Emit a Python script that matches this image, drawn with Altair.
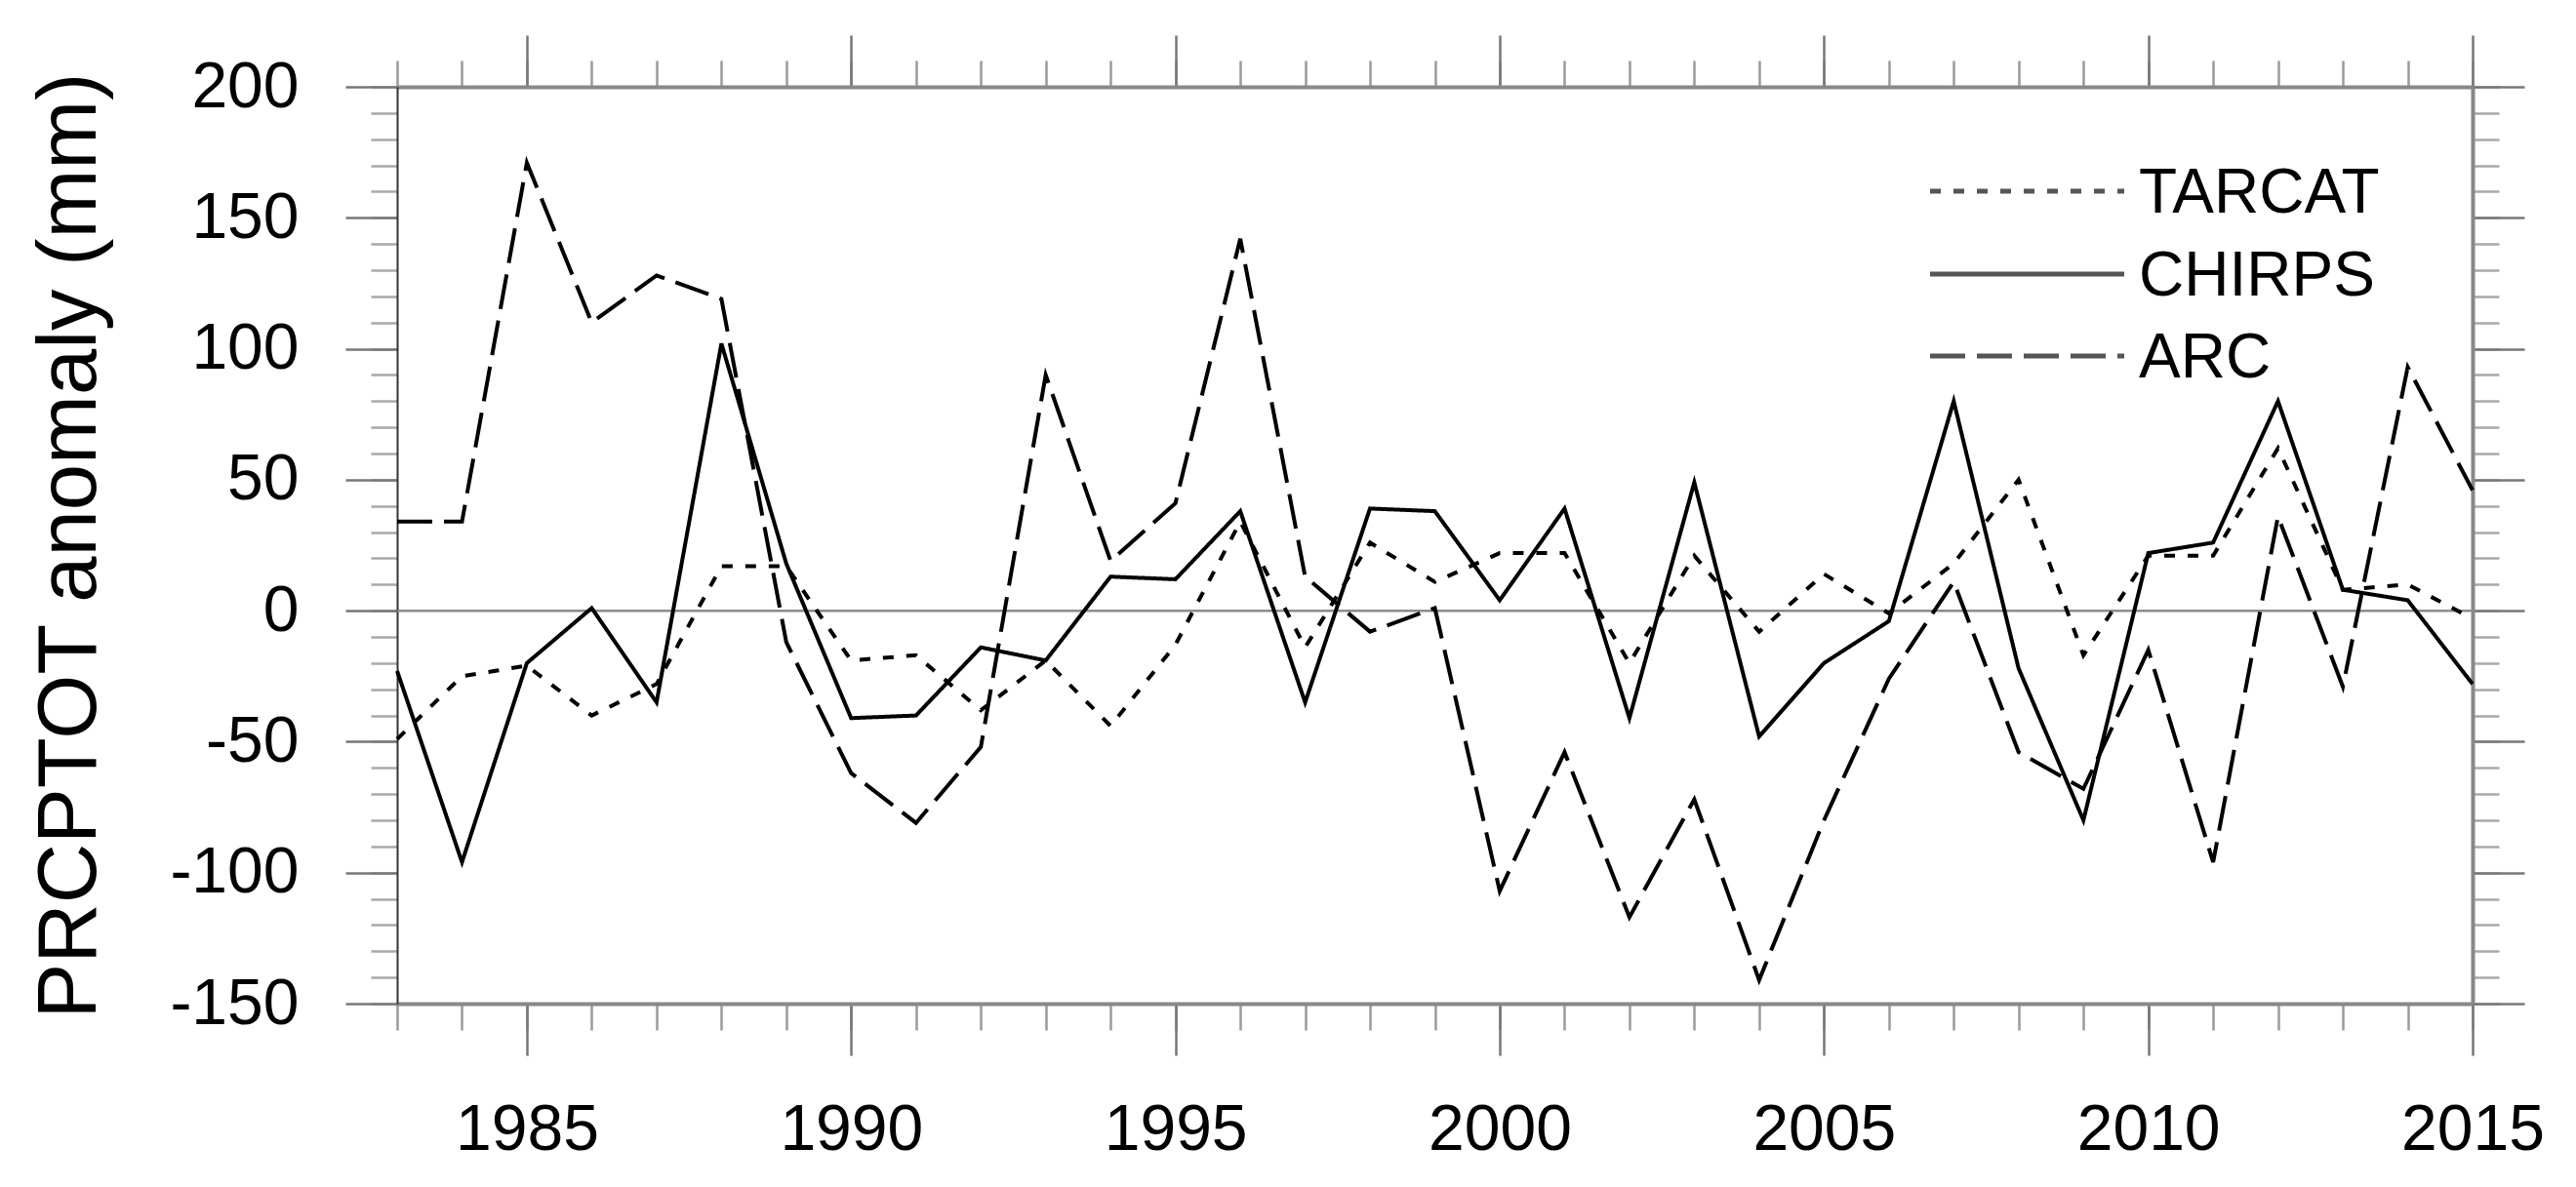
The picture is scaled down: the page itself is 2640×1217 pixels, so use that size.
import altair as alt
import pandas as pd

years = list(range(1983, 2016))
series_names = ["TARCAT", "CHIRPS", "ARC"]

tarcat = [-49, -25, -21, -40, -28, 17, 17, -19, -17, -38, -19, -44, -13, 34, -14,
          26, 11, 22, 22, -20, 21, -8, 14, -1, 18, 50, -17, 21, 21, 62, 8, 10, -3]
chirps = [-23, -96, -20, 1, -35, 102, 18, -41, -40, -14, -19, 13, 12, 38, -35,
          39, 38, 4, 39, -41, 49, -48, -20, -4, 80, -22, -80, 22, 26, 80, 8, 4, -28]
arc = [34, 34, 171, 110, 128, 119, -12, -62, -81, -52, 90, 19, 41, 142, 13,
       -8, 1, -107, -54, -117, -72, -141, -80, -26, 11, -54, -68, -15, -96, 36, -29, 93, 46]

x_major = list(range(1985, 2016, 5))
x_minor = years
y_major = list(range(-150, 201, 50))
y_minor = list(range(-150, 201, 10))

rows = []
for name, vals in zip(series_names, [tarcat, chirps, arc]):
    for yr, v in zip(years, vals):
        rows.append({"year": yr, "value": v, "series": name})
df = pd.DataFrame(rows)
zero_df = pd.DataFrame({"v": [0]})

FONT = "Liberation Sans"
W, H = 2127, 940

xscale = alt.Scale(domain=[1983, 2015], nice=False, zero=False)
yscale = alt.Scale(domain=[-150, 200], nice=False, zero=False)
dash_scale = alt.Scale(domain=series_names, range=[[11, 13], [1, 0], [36, 12]])

MAJ, MIN = 53, 27


def ax(orient, values, size, labels=False, domain=False, dcolor="#888888",
       dwidth=4, tcolor="#777777", **kw):
    return alt.Axis(orient=orient, values=values, tickSize=size, labels=labels,
                    domain=domain, domainColor=dcolor, domainWidth=dwidth,
                    tickColor=tcolor, tickWidth=2.5, grid=False, title=None,
                    labelFont=FONT, labelFontSize=66, labelColor="black",
                    labelExpr="'' + datum.value", labelFlush=False,
                    labelOverlap=False, **kw)


zero_rule = alt.Chart(zero_df).mark_rule(color="#8c8c8c", strokeWidth=2.5).encode(
    y=alt.Y("v:Q", scale=yscale, axis=None)
)

lines = alt.Chart(df).mark_line(color="black", strokeWidth=4, strokeJoin="miter",
                                strokeCap="butt").encode(
    x=alt.X("year:Q", scale=xscale,
            axis=ax("bottom", x_major, MAJ, labels=True, domain=True, labelPadding=44)),
    y=alt.Y("value:Q", scale=yscale,
            axis=alt.Axis(orient="left", values=y_major, tickSize=MAJ, labels=True,
                          domain=True, domainColor="#333333", domainWidth=2,
                          tickColor="#777777", tickWidth=2.5, grid=False,
                          labelFont=FONT, labelFontSize=66, labelColor="black",
                          labelExpr="'' + datum.value", labelPadding=48,
                          labelOverlap=False, labelFlush=False,
                          title="PRCPTOT anomaly (mm)", titleFont=FONT,
                          titleFontSize=85, titleFontWeight="normal",
                          titleColor="black", titleAngle=270,
                          titleBaseline="alphabetic", titleAlign="center",
                          titleX=-310, titleY=H / 2)),
    strokeDash=alt.StrokeDash("series:N", scale=dash_scale, legend=None),
    detail="series:N",
)

minor_bl = alt.Chart(df).mark_point(opacity=0).encode(
    x=alt.X("year:Q", scale=xscale, axis=ax("bottom", x_minor, MIN, tcolor="#9a9a9a")),
    y=alt.Y("value:Q", scale=yscale, axis=ax("left", y_minor, MIN, tcolor="#a8a8a8")),
)

major_tr = alt.Chart(df).mark_point(opacity=0).encode(
    x=alt.X("year:Q", scale=xscale, axis=ax("top", x_major, MAJ, domain=True)),
    y=alt.Y("value:Q", scale=yscale, axis=ax("right", y_major, MAJ, domain=True)),
)

minor_tr = alt.Chart(df).mark_point(opacity=0).encode(
    x=alt.X("year:Q", scale=xscale, axis=ax("top", x_minor, MIN, tcolor="#9a9a9a")),
    y=alt.Y("value:Q", scale=yscale, axis=ax("right", y_minor, MIN, tcolor="#a8a8a8")),
)

# legend (drawn manually, pixel positions inside the plot)
leg_y = {"TARCAT": 107, "CHIRPS": 192, "ARC": 276}
legend_layers = []
for name in series_names:
    ldf = pd.DataFrame({"series": [name]})
    legend_layers.append(
        alt.Chart(ldf).mark_rule(color="#555555", strokeWidth=5, strokeCap="butt").encode(
            x=alt.value(1571), x2=alt.value(1770), y=alt.value(leg_y[name]),
            strokeDash=alt.StrokeDash("series:N", scale=dash_scale, legend=None),
        )
    )
    legend_layers.append(
        alt.Chart(ldf).mark_text(align="left", baseline="middle", font=FONT,
                                 fontSize=64, color="black").encode(
            x=alt.value(1785), y=alt.value(leg_y[name] + 3), text="series:N"
        )
    )

chart = alt.layer(zero_rule, minor_bl, minor_tr, major_tr, lines, *legend_layers).resolve_axis(
    x="independent", y="independent"
).properties(
    width=W, height=H,
    autosize=alt.AutoSizeParams(type="none"),
    padding={"left": 399, "top": 81, "right": 98, "bottom": 180},
    background="white",
).configure_view(stroke=None)

chart.save("out.html", embed_options={"renderer": "svg", "actions": False})
